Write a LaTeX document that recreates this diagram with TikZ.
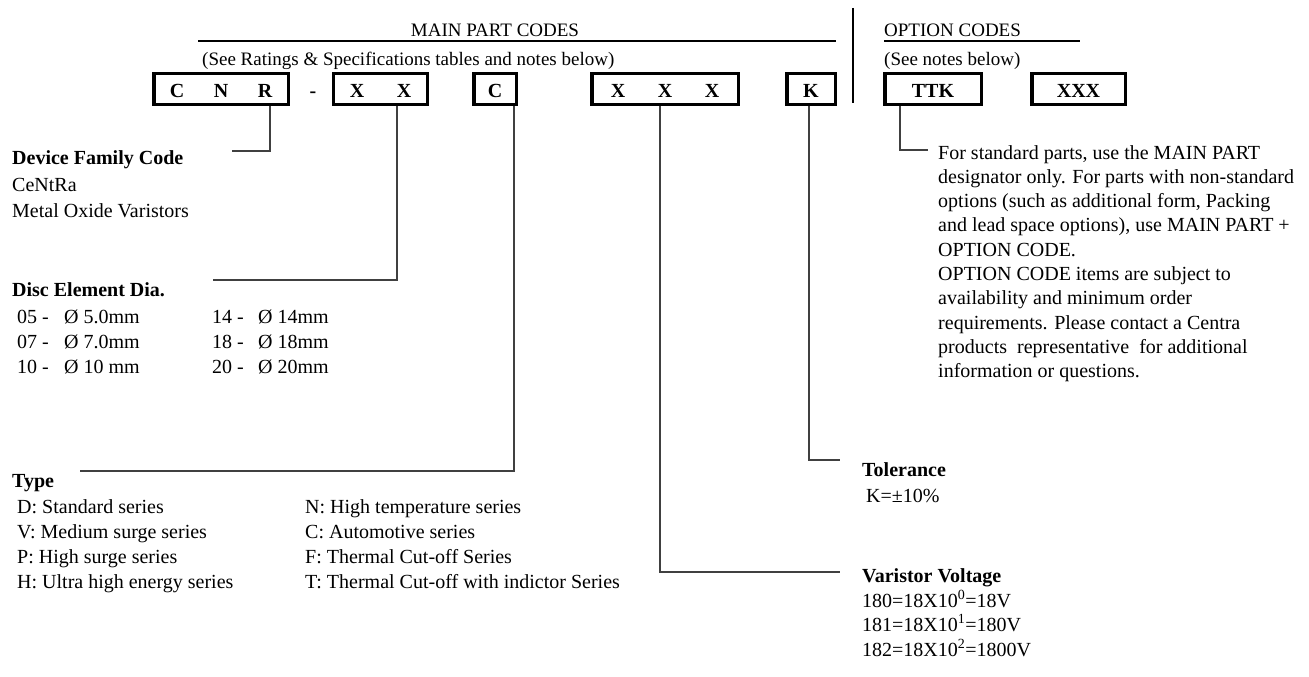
\documentclass[tikz,border=0pt]{standalone}
\usepackage{fontspec}
\setmainfont{Liberation Serif}
\begin{document}
\begin{tikzpicture}[x=1pt,y=-1pt,
  txt/.style={anchor=base west,inner sep=0pt,font=\fontsize{20}{24}\selectfont},
  boldtxt/.style={anchor=base west,inner sep=0pt,font=\fontsize{20}{24}\selectfont\bfseries},
  hdr/.style={inner sep=0pt,font=\fontsize{19}{23}\selectfont},
  codebox/.style={draw,line width=3.5pt,minimum height=30.5pt,inner sep=0pt,
     text height=16pt,text depth=0pt,font=\fontsize{20}{24}\selectfont\bfseries},
  conn/.style={draw=black!75,line width=1.2pt},
  hrule/.style={line width=2pt}]
\useasboundingbox (0,0) rectangle (1309,677);

% headers
\node[hdr,anchor=base] (mpc) at (495,37) {MAIN PART CODES};
\coordinate (mpcL) at (198,41);
\coordinate (mpcR) at (836,41);
\draw[hrule] (mpcL) -- (mpcR);
\node[hdr,anchor=base west] (see1) at (202,66) {(See Ratings \& Specifications tables and notes below)};
\node[hdr,anchor=base west] (opc) at (884,37) {OPTION CODES};
\coordinate (opL) at (884,41);
\coordinate (opR) at (1080,41);
\draw[hrule] (opL) -- (opR);
\node[hdr,anchor=base west] (see2) at (884,66) {(See notes below)};
\coordinate (sepT) at (853,8);
\coordinate (sepB) at (853,103);
\draw[line width=1.5pt] (sepT) -- (sepB);

% code boxes
\node[codebox,minimum width=134.5pt] (cnr) at (221,89) {\makebox[44pt]{C}\makebox[44pt]{N}\makebox[44pt]{R}};
\node[anchor=base,inner sep=0pt,font=\fontsize{20}{24}\selectfont\bfseries] (dash) at (313,97) {-};
\node[codebox,minimum width=91.5pt] (xx) at (380.5,89) {\makebox[47pt]{X}\makebox[47pt]{X}};
\node[codebox,minimum width=42.5pt] (cc) at (495,89) {C};
\node[codebox,minimum width=146.5pt] (xxx) at (665,89) {\makebox[47pt]{X}\makebox[47pt]{X}\makebox[47pt]{X}};
\node[codebox,minimum width=48.5pt] (kk) at (811,89) {K};
\node[codebox,minimum width=96.5pt] (ttk) at (933,89) {TTK};
\node[codebox,minimum width=93.5pt] (opt) at (1078.5,89) {XXX};

% connectors
\coordinate (rEnd) at (232,151);
\draw[conn] ([xshift=49pt]cnr.south) |- (rEnd);
\coordinate (xxEnd) at (213,280);
\draw[conn] ([xshift=16.5pt]xx.south) |- (xxEnd);
\coordinate (cEnd) at (80,471);
\draw[conn] ([xshift=19pt]cc.south) |- (cEnd);
\coordinate (vEnd) at (840,572);
\draw[conn] ([xshift=-5pt]xxx.south) |- (vEnd);
\coordinate (kEnd) at (840,460);
\draw[conn] ([xshift=-2pt]kk.south) |- (kEnd);
\coordinate (tEnd) at (928,150);
\draw[conn] ([xshift=-33pt]ttk.south) |- (tEnd);

% device family
\node[boldtxt] (dfc) at (12,164) {Device Family Code};
\node[txt] (dfc1) at (12,191) {CeNtRa};
\node[txt] (dfc2) at (12,217) {Metal Oxide Varistors};

% disc element
\node[boldtxt] (ded) at (12,296) {Disc Element Dia.};
\node[txt] (d05) at (17,323) {05 -};
\node[txt] (d05v) at (64,323) {Ø\kern5pt 5.0mm};
\node[txt] (d07) at (17,348) {07 -};
\node[txt] (d07v) at (64,348) {Ø\kern5pt 7.0mm};
\node[txt] (d10) at (17,373) {10 -};
\node[txt] (d10v) at (64,373) {Ø\kern5pt 10 mm};
\node[txt] (d14) at (212,323) {14 -};
\node[txt] (d14v) at (258,323) {Ø\kern5pt 14mm};
\node[txt] (d18) at (212,348) {18 -};
\node[txt] (d18v) at (258,348) {Ø\kern5pt 18mm};
\node[txt] (d20) at (212,373) {20 -};
\node[txt] (d20v) at (258,373) {Ø\kern5pt 20mm};

% type
\node[boldtxt] (typ) at (12,487) {Type};
\node[txt] (tD) at (17,513) {D: Standard series};
\node[txt] (tV) at (17,538) {V: Medium surge series};
\node[txt] (tP) at (17,563) {P: High surge series};
\node[txt] (tH) at (17,588) {H: Ultra high energy series};
\node[txt] (tN) at (305,513) {N: High temperature series};
\node[txt] (tC) at (305,538) {C: Automotive series};
\node[txt] (tF) at (305,563) {F: Thermal Cut-off Series};
\node[txt] (tT) at (305,588) {T: Thermal Cut-off with indictor Series};

% tolerance
\node[boldtxt] (tol) at (862,476) {Tolerance};
\node[txt] (tol1) at (866,502) {K=±10\%};

% varistor voltage
\node[boldtxt] (vv) at (862,582) {Varistor Voltage};
\node[txt] (vv1) at (862,607) {180=18X10\textsuperscript{0}=18V};
\node[txt] (vv2) at (862,631) {181=18X10\textsuperscript{1}=180V};
\node[txt] (vv3) at (862,656) {182=18X10\textsuperscript{2}=1800V};

% option note
\foreach \t [count=\i] in {{For standard parts, use the MAIN PART},
  {designator only. For parts with non-standard},
  {options (such as additional form, Packing},
  {and lead space options), use MAIN PART +},
  {OPTION CODE.},
  {OPTION CODE items are subject to},
  {availability and minimum order},
  {requirements. Please contact a Centra},
  {products\ \ representative\ \ for additional},
  {information or questions.}}
  \node[txt] (note\i) at (938,{159+24.3*(\i-1)}) {\t};
\end{tikzpicture}
\end{document}
